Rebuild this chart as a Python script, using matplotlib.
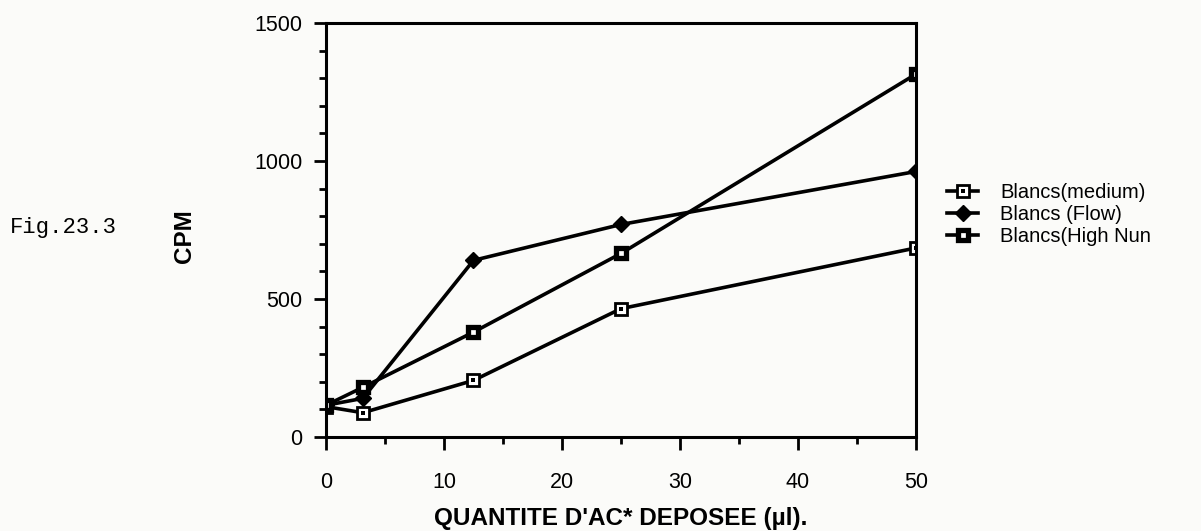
import matplotlib
matplotlib.use("Agg")
import matplotlib.pyplot as plt
from matplotlib.ticker import MultipleLocator, FixedLocator
from matplotlib.legend_handler import HandlerTuple

# Deposited volume (µl) and blank counts (CPM)
volumes = [0, 3.125, 12.5, 25, 50]
blanc_medium = [110, 88, 205, 465, 685]
blanc_flow = [115, 140, 640, 770, 962]
blanc_high_nun = [115, 180, 380, 665, 1315]

series_labels = ["Blancs(medium)", "Blancs (Flow)", "Blancs(High Nun"]
x_ticks = [0, 10, 20, 30, 40, 50]
y_ticks = [0, 500, 1000, 1500]

plt.rcParams["font.family"] = ["Liberation Sans", "DejaVu Sans"]

paper = "#fbfbf9"
fig = plt.figure(figsize=(12.01, 5.31), dpi=100, facecolor=paper)
ax = fig.add_axes([0.2714, 0.177, 0.4913, 0.7797])
ax.set_facecolor(paper)

line_kw = dict(color="black", linewidth=2.6, solid_joinstyle="miter")

# open square with a centre dot
med_line, = ax.plot(volumes, blanc_medium, marker="s", markersize=8,
                    markerfacecolor="white", markeredgecolor="black",
                    markeredgewidth=2.0, **line_kw)
med_dot, = ax.plot(volumes, blanc_medium, linestyle="none", marker="s",
                   markersize=2.3, color="black", markeredgewidth=0)

# filled diamond
flow_line, = ax.plot(volumes, blanc_flow, marker="D", markersize=8,
                     markerfacecolor="black", markeredgecolor="black", **line_kw)

# heavy square with a small hole
high_line, = ax.plot(volumes, blanc_high_nun, marker="s", markersize=7.5,
                     markerfacecolor="white", markeredgecolor="black",
                     markeredgewidth=3.8, **line_kw)

ax.set_xlim(0, 50)
ax.set_ylim(0, 1500)
ax.xaxis.set_major_locator(FixedLocator(x_ticks))
ax.xaxis.set_minor_locator(MultipleLocator(5))
ax.yaxis.set_major_locator(FixedLocator(y_ticks))
ax.yaxis.set_minor_locator(MultipleLocator(100))

for side in ax.spines.values():
    side.set_linewidth(2.2)
ax.tick_params(which="major", direction="out", length=9, width=2.0, labelsize=15.5)
ax.tick_params(which="minor", direction="out", length=5, width=2.0)
ax.tick_params(axis="y", pad=8)
ax.tick_params(axis="x", pad=16)

ax.set_xlabel("QUANTITE D'AC* DEPOSEE (µl).", fontsize=17.5, fontweight="bold",
              va="center")
ax.xaxis.set_label_coords(0.5, -0.196)
ax.set_ylabel("CPM", fontsize=17.5, fontweight="bold", va="center")
ax.yaxis.set_label_coords(-0.239, 0.485)

fig.text(0.008, 0.571, "Fig.23.3", fontsize=16, family="Liberation Mono",
         ha="left", va="center")

ax.legend([(med_line, med_dot), flow_line, high_line], series_labels,
          handler_map={tuple: HandlerTuple(ndivide=1, pad=0)},
          loc="upper left", bbox_to_anchor=(0.7885, 0.655),
          bbox_transform=fig.transFigure, frameon=False, fontsize=14.5,
          handlelength=1.55, handletextpad=1.1, labelspacing=0.15,
          borderpad=0, borderaxespad=0)

fig.savefig("out.png", dpi=100, facecolor=fig.get_facecolor())
